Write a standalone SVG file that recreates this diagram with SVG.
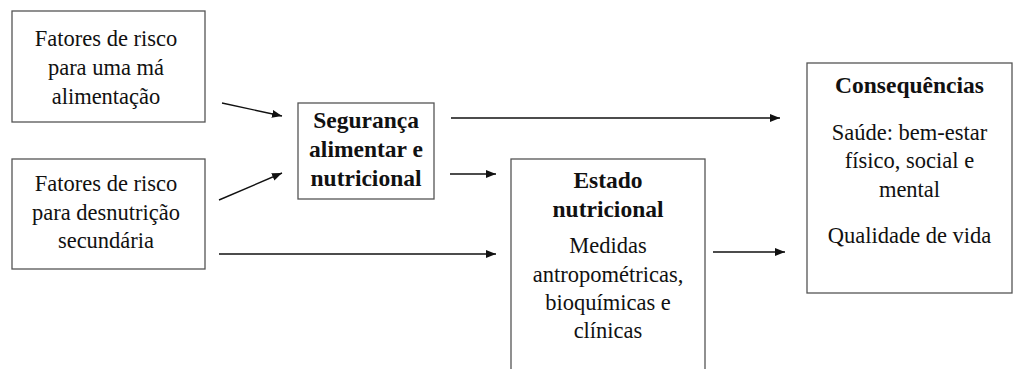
<svg xmlns="http://www.w3.org/2000/svg" width="1016" height="369" viewBox="0 0 1016 369">
<style>
.box{fill:#fff;stroke:#555;stroke-width:1.3}
.t{font-family:"Liberation Serif","Times New Roman",serif;font-size:22.5px;fill:#111;text-anchor:middle}
.b{font-weight:bold;font-size:23.5px}
.c{stroke:#111;stroke-width:1.4;fill:none;marker-end:url(#ah)}
</style>
<defs>
<marker id="ah" viewBox="0 0 10 8" refX="10" refY="4" markerWidth="10" markerHeight="8" markerUnits="userSpaceOnUse" orient="auto">
<path d="M0,0 L10,4 L0,8 Z" fill="#111"/>
</marker>
</defs>
<rect width="1016" height="369" fill="#fff"/>
<g id="n1">
<rect class="box" x="12" y="11" width="193" height="111"/>
<text class="t" x="106" y="46">Fatores de risco</text>
<text class="t" x="106" y="75">para uma má</text>
<text class="t" x="106" y="104">alimentação</text>
</g>
<g id="n2">
<rect class="box" x="12" y="159" width="193" height="110"/>
<text class="t" x="106" y="191">Fatores de risco</text>
<text class="t" x="106" y="220">para desnutrição</text>
<text class="t" x="106" y="248">secundária</text>
</g>
<g id="n3">
<rect class="box" x="298" y="103" width="136" height="96"/>
<text class="t b" x="366" y="128">Segurança</text>
<text class="t b" x="366" y="157">alimentar e</text>
<text class="t b" x="366" y="186">nutricional</text>
</g>
<g id="n4">
<rect class="box" x="511" y="159" width="194" height="215"/>
<text class="t b" x="608" y="188">Estado</text>
<text class="t b" x="608" y="217">nutricional</text>
<text class="t" x="608" y="253">Medidas</text>
<text class="t" x="608" y="282">antropométricas,</text>
<text class="t" x="608" y="310">bioquímicas e</text>
<text class="t" x="608" y="338">clínicas</text>
</g>
<g id="n5">
<rect class="box" x="807" y="63" width="205" height="230"/>
<text class="t b" x="909.5" y="93">Consequências</text>
<text class="t" x="909.5" y="140">Saúde: bem-estar</text>
<text class="t" x="909.5" y="168">físico, social e</text>
<text class="t" x="909.5" y="197">mental</text>
<text class="t" x="909.5" y="243">Qualidade de vida</text>
</g>
<g id="connectors">
<line class="c" x1="222" y1="103" x2="282" y2="116"/>
<line class="c" x1="219" y1="200" x2="282" y2="173"/>
<line class="c" x1="451" y1="118" x2="780" y2="118"/>
<line class="c" x1="450" y1="174" x2="496" y2="174"/>
<line class="c" x1="219" y1="254" x2="496" y2="254"/>
<line class="c" x1="713" y1="252" x2="785" y2="252"/>
</g>
</svg>
